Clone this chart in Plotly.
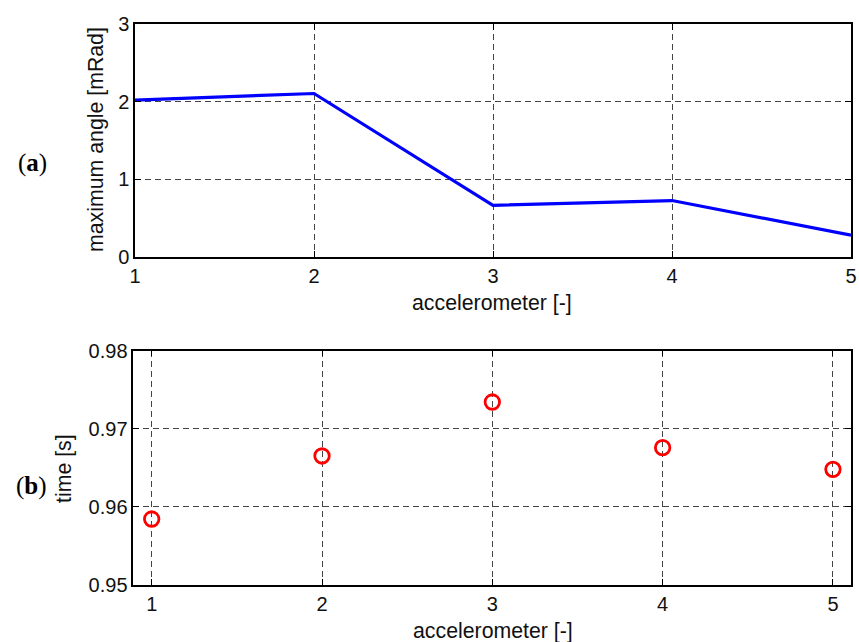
import plotly.graph_objects as go
from plotly.subplots import make_subplots

accelerometer = [1, 2, 3, 4, 5]
max_angle = [2.02, 2.105, 0.666, 0.727, 0.28]
peak_time = [0.95845, 0.96652, 0.97343, 0.96758, 0.96481]

W, H = 859, 642

fig = make_subplots(rows=2, cols=1)

fig.add_trace(go.Scatter(x=accelerometer, y=max_angle, mode="lines",
                         line=dict(color="#0000ff", width=3.2),
                         showlegend=False), row=1, col=1)
fig.add_trace(go.Scatter(x=accelerometer, y=peak_time, mode="markers",
                         marker=dict(symbol="circle-open", size=14.5, color="#ff0000",
                                     line=dict(width=2.8, color="#ff0000")),
                         showlegend=False), row=2, col=1)

tick_font = dict(family="Liberation Sans, Arial, sans-serif", size=20, color="#111111")
title_font = dict(family="Liberation Sans, Arial, sans-serif", size=21.3, color="#111111")
common = dict(showline=True, linecolor="#000000", linewidth=1.5, mirror="ticks",
              ticks="inside", ticklen=6, tickcolor="#000000", tickwidth=1,
              showgrid=True, gridcolor="#444444", griddash="6px,4px", gridwidth=1,
              zeroline=False, tickfont=tick_font, automargin=False)

fig.update_layout(
    template="none",
    width=W, height=H, margin=dict(l=0, r=0, t=0, b=0),
    paper_bgcolor="white", plot_bgcolor="white",
    xaxis=dict(domain=[135 / W, 851 / W], range=[1, 5], tickvals=[1, 2, 3, 4, 5], **common),
    yaxis=dict(domain=[1 - 257 / H, 1 - 24 / H], range=[0, 3], tickvals=[0, 1, 2, 3], **common),
    xaxis2=dict(domain=[133.3 / W, 851 / W], range=[0.892, 5.106],
                tickvals=[1, 2, 3, 4, 5], **common),
    yaxis2=dict(domain=[1 - 585 / H, 1 - 350.7 / H], range=[0.95, 0.98],
                tickvals=[0.95, 0.96, 0.97, 0.98], ticktext=["0.95", "0.96", "0.97", "0.98"],
                **common),
)


def paper_text(text, x, y, font, angle=0):
    fig.add_annotation(x=x / W, y=1 - y / H, xref="paper", yref="paper", text=text,
                       showarrow=False, textangle=angle, font=font,
                       xanchor="center", yanchor="middle")


# axis titles
paper_text("accelerometer [-]", 492, 303, title_font)
paper_text("maximum angle [mRad]", 96, 140, title_font, -90)
paper_text("accelerometer [-]", 493, 631, title_font)
paper_text("time [s]", 64, 469, title_font, -90)

# panel labels
label_font = dict(family="Liberation Serif, Times New Roman, serif", size=25, color="#000000")
paper_text("(<b>a</b>)", 32, 163, label_font)
paper_text("(<b>b</b>)", 31, 486, label_font)

fig.write_html("out.html")
